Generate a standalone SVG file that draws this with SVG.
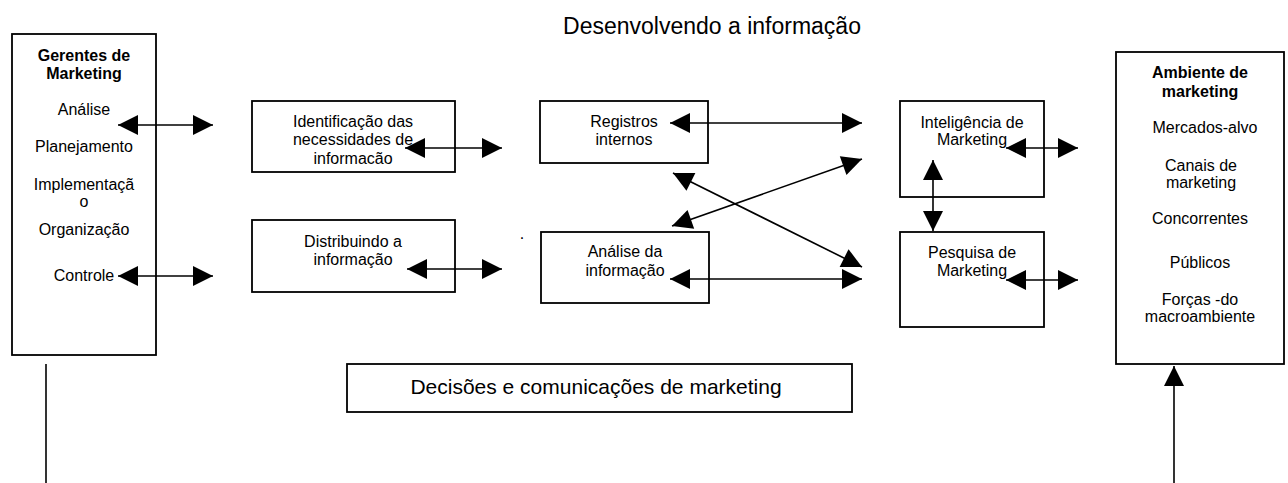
<svg xmlns="http://www.w3.org/2000/svg" width="1288" height="483" viewBox="0 0 1288 483">
<style>
.box{fill:#fff;stroke:#000;stroke-width:1.8}
.t{font-family:"Liberation Sans",Arial,sans-serif;font-size:16px;fill:#000;text-anchor:middle}
.b{font-weight:bold}
.c{stroke:#000;stroke-width:1.6;fill:none}
.bi{marker-start:url(#ah);marker-end:url(#ah)}
.one{marker-end:url(#ah)}
</style>
<defs>
<marker id="ah" markerUnits="userSpaceOnUse" markerWidth="20" markerHeight="20" refX="20" refY="10" orient="auto-start-reverse" overflow="visible">
<path d="M0,0 L20,10 L0,20 z" fill="#000"/>
</marker>
</defs>
<text class="t" x="712" y="34" style="font-size:23px">Desenvolvendo a informação</text>
<g id="gerentes">
<rect class="box" x="12" y="34" width="144" height="321"/>
<text class="t b" x="84" y="61">Gerentes de</text>
<text class="t b" x="84" y="79">Marketing</text>
<text class="t" x="84" y="115">Análise</text>
<text class="t" x="84" y="152">Planejamento</text>
<text class="t" x="84" y="190">Implementaçã</text>
<text class="t" x="84" y="207">o</text>
<text class="t" x="84" y="235">Organização</text>
<text class="t" x="84" y="281">Controle</text>
</g>
<g id="identificacao">
<rect class="box" x="252" y="101" width="203" height="71"/>
<text class="t" x="353" y="127">Identificação das</text>
<text class="t" x="353" y="145">necessidades de</text>
<text class="t" x="353" y="164">informacão</text>
</g>
<g id="distribuindo">
<rect class="box" x="252" y="220" width="203" height="72"/>
<text class="t" x="353" y="247">Distribuindo a</text>
<text class="t" x="353" y="265">informação</text>
</g>
<text class="t" x="522" y="239">.</text>
<g id="registros">
<rect class="box" x="540" y="101" width="168" height="62"/>
<text class="t" x="624" y="127">Registros</text>
<text class="t" x="624" y="145">internos</text>
</g>
<g id="analise">
<rect class="box" x="541" y="232" width="168" height="71"/>
<text class="t" x="625" y="257">Análise da</text>
<text class="t" x="625" y="276">informação</text>
</g>
<g id="inteligencia">
<rect class="box" x="900" y="101" width="144" height="96"/>
<text class="t" x="972" y="128">Inteligência de</text>
<text class="t" x="972" y="145">Marketing</text>
</g>
<g id="pesquisa">
<rect class="box" x="900" y="232" width="144" height="95"/>
<text class="t" x="972" y="258">Pesquisa de</text>
<text class="t" x="972" y="276">Marketing</text>
</g>
<g id="ambiente">
<rect class="box" x="1116" y="52" width="168" height="312"/>
<text class="t b" x="1200" y="78">Ambiente de</text>
<text class="t b" x="1200" y="97">marketing</text>
<text class="t" x="1205" y="133">Mercados-alvo</text>
<text class="t" x="1201" y="171">Canais de</text>
<text class="t" x="1201" y="188">marketing</text>
<text class="t" x="1200" y="224">Concorrentes</text>
<text class="t" x="1200" y="268">Públicos</text>
<text class="t" x="1200" y="305">Forças -do</text>
<text class="t" x="1200" y="322">macroambiente</text>
</g>
<g id="decisoes">
<rect class="box" x="347" y="364" width="505" height="48"/>
<text class="t" x="596" y="394" style="font-size:21px">Decisões e comunicações de marketing</text>
</g>
<g id="connectors">
<line class="c bi" x1="118" y1="125" x2="213" y2="125"/>
<line class="c bi" x1="118" y1="276" x2="213" y2="276"/>
<line class="c bi" x1="405" y1="148" x2="502" y2="148"/>
<line class="c bi" x1="407" y1="269" x2="502" y2="269"/>
<line class="c bi" x1="670" y1="123" x2="862" y2="123"/>
<line class="c bi" x1="670" y1="279" x2="862" y2="279"/>
<line class="c bi" x1="672" y1="226" x2="862" y2="159"/>
<line class="c bi" x1="673" y1="173" x2="862" y2="267"/>
<line class="c bi" x1="933" y1="160" x2="933" y2="231"/>
<line class="c bi" x1="1006" y1="148" x2="1078" y2="148"/>
<line class="c bi" x1="1006" y1="280" x2="1078" y2="280"/>
<line class="c" x1="46" y1="364" x2="46" y2="483"/>
<line class="c one" x1="1174" y1="483" x2="1174" y2="366"/>
</g>
</svg>
